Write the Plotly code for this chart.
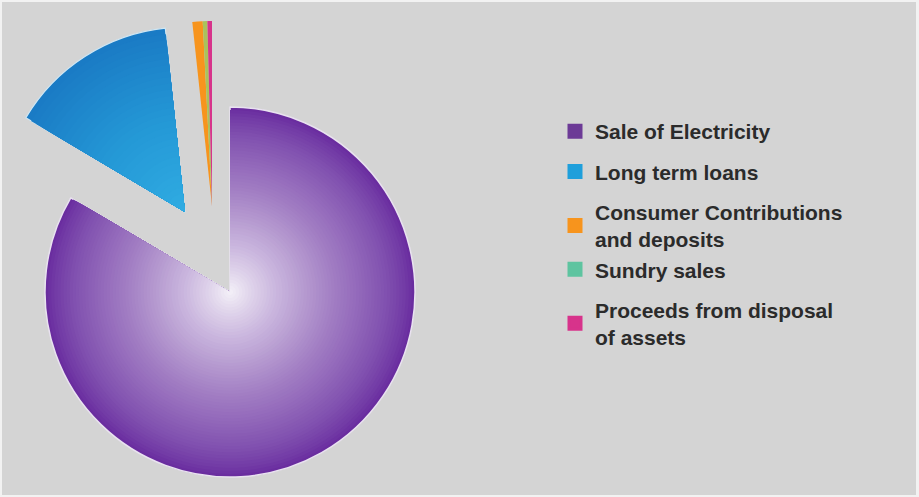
import plotly.graph_objects as go

# ---- data -------------------------------------------------------------
categories = [
    "Sale of Electricity",
    "Long term loans",
    "Consumer Contributions and deposits",
    "Sundry sales",
    "Proceeds from disposal of assets",
]
legend_labels = [
    "Sale of Electricity",
    "Long term loans",
    "Consumer Contributions<br>and deposits",
    "Sundry sales",
    "Proceeds from disposal<br>of assets",
]
shares = [83.5, 14.8, 0.9, 0.4, 0.4]

# ---- styling ----------------------------------------------------------
W, H = 919, 497
R = 185
CLEAR = "rgba(0,0,0,0)"
BG = "#d4d4d4"
swatch_colors = ["#6c3a96", "#1f9fdb", "#f7941d", "#5ec4a0", "#d7338b"]
legend_groups = ["a", "b", "c", "c", "d"]

# radial shading (t = 0 at the centre, 1 at the rim)
purple_stops = [
    (0.00, (244, 240, 248)),
    (0.12, (222, 210, 234)),
    (0.25, (202, 182, 222)),
    (0.40, (182, 155, 208)),
    (0.55, (163, 127, 196)),
    (0.70, (146, 104, 186)),
    (0.85, (128, 80, 175)),
    (0.95, (114, 58, 165)),
    (1.00, (104, 42, 158)),
]
blue_stops = [
    (0.00, (48, 172, 226)),
    (0.50, (36, 152, 214)),
    (1.00, (26, 122, 196)),
]

# exploded wedge centres (px from top-left)
PURPLE_C = (230, 292)
BLUE_C = (185, 212)
SMALL_C = (212, 206)


def shade(stops, t):
    for (t0, c0), (t1, c1) in zip(stops, stops[1:]):
        if t <= t1:
            f = (t - t0) / (t1 - t0) if t1 > t0 else 0
            r, g, b = (round(a + (b_ - a) * f) for a, b_ in zip(c0, c1))
            return f"rgb({r},{g},{b})"
    r, g, b = stops[-1][1]
    return f"rgb({r},{g},{b})"


def domain(cx, cy, r):
    return dict(
        x=[max(0.0, (cx - r) / W), min(1.0, (cx + r) / W)],
        y=[max(0.0, (H - cy - r) / H), min(1.0, (H - cy + r) / H)],
    )


def wedge(center, r, fills, line_colors=None, line_width=0):
    return go.Pie(
        labels=categories,
        values=shares,
        sort=False,
        direction="clockwise",
        rotation=0,
        domain=domain(center[0], center[1], r),
        marker=dict(
            colors=fills,
            line=dict(color=line_colors or [CLEAR] * len(categories), width=line_width),
        ),
        textinfo="none",
        hoverinfo="skip",
        showlegend=False,
    )


fig = go.Figure()

# legend entries: one tiny pie per category, tucked inside the purple wedge
for i, lab in enumerate(legend_labels):
    fig.add_trace(
        go.Pie(
            labels=[lab],
            values=[shares[i]],
            sort=False,
            domain=domain(300, 400, 0.5),
            marker=dict(colors=[swatch_colors[i]], line=dict(color=swatch_colors[i], width=3)),
            textinfo="none",
            hoverinfo="skip",
            legendgroup=legend_groups[i],
            showlegend=True,
        )
    )

# Sale of Electricity: concentric layers give the radial glow
N_P = 60
for k in range(N_P):
    t = 1 - k / N_P
    fills = [shade(purple_stops, t - 0.5 / N_P), CLEAR, CLEAR, CLEAR, CLEAR]
    lines = ["#e9e2f0", CLEAR, CLEAR, CLEAR, CLEAR] if k == 0 else None
    fig.add_trace(wedge(PURPLE_C, R * t, fills, lines, 1.5 if k == 0 else 0))

# Long term loans: pulled out towards the upper left
N_B = 30
for k in range(N_B):
    t = 1 - k / N_B
    fills = [CLEAR, shade(blue_stops, t - 0.5 / N_B), CLEAR, CLEAR, CLEAR]
    lines = [CLEAR, "#cfe6f3", CLEAR, CLEAR, CLEAR] if k == 0 else None
    fig.add_trace(wedge(BLUE_C, R * t, fills, lines, 1.2 if k == 0 else 0))

# the three thin slices, pulled out to the top
fig.add_trace(
    wedge(SMALL_C, R, [CLEAR, CLEAR, swatch_colors[2], "#a9c35c", swatch_colors[4]])
)

fig.update_layout(
    width=W,
    height=H,
    margin=dict(l=0, r=0, t=0, b=0),
    paper_bgcolor="#f2f2f2",
    shapes=[
        dict(
            type="rect",
            xref="paper",
            yref="paper",
            x0=2 / W,
            x1=(W - 3) / W,
            y0=2 / H,
            y1=(H - 2) / H,
            fillcolor=BG,
            line=dict(width=0),
            layer="below",
        )
    ],
    legend=dict(
        x=555 / W,
        xanchor="left",
        y=1 - 111 / H,
        yanchor="top",
        bgcolor="rgba(0,0,0,0)",
        tracegroupgap=10,
        font=dict(family="Liberation Sans, Arial, sans-serif", size=21, color="#2b2b2b", weight=700),
    ),
)

fig.write_html("out.html")
